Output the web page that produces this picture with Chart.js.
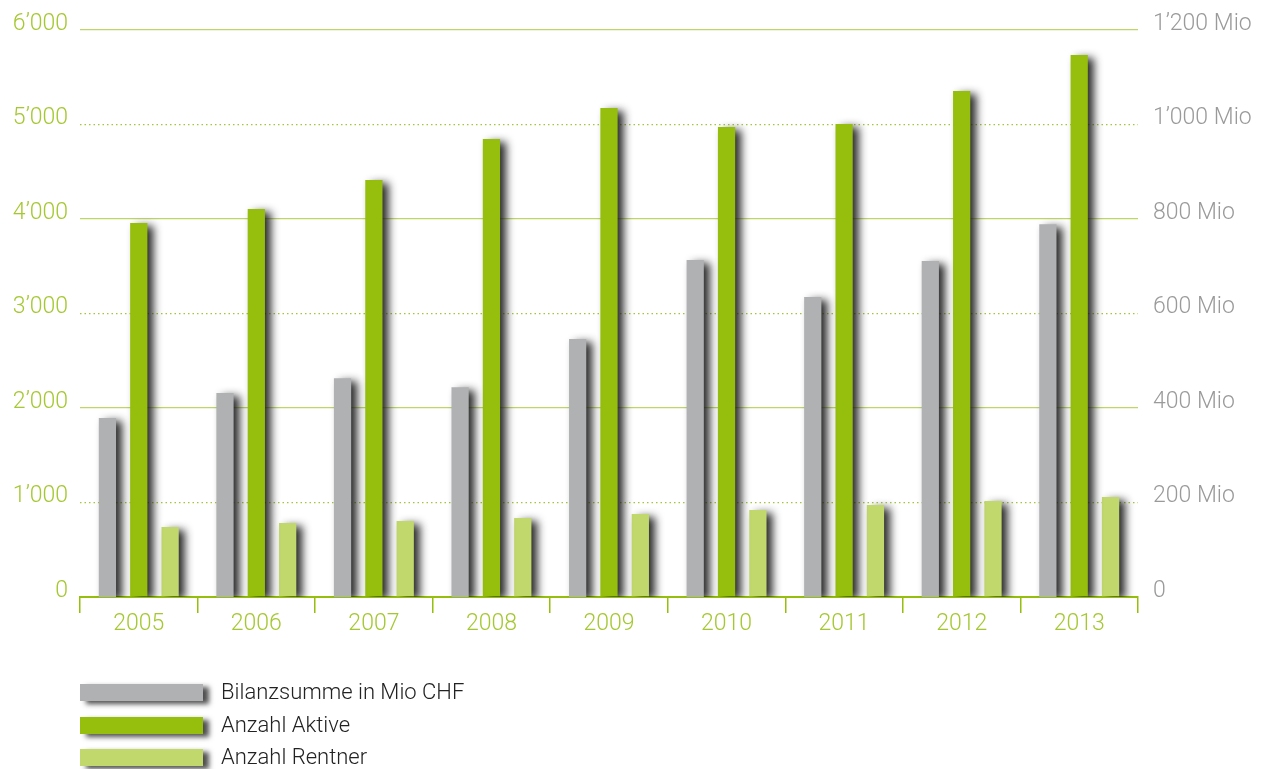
<!DOCTYPE html>
<html>
<head>
<meta charset="utf-8">
<script src="https://cdn.jsdelivr.net/npm/chart.js@4.4.1/dist/chart.umd.min.js"></script>
<style>
  body { margin: 0; background: #fff; }
  #wrap { position: relative; width: 1268px; height: 769px; }
  #legend { position: absolute; left: 80px; top: 684px; font-family: Roboto, "Liberation Sans", sans-serif; font-weight: 300; font-size: 22px; color: #222; }
  .row { position: relative; height: 32.5px; }
  .box { position: absolute; left: 0; top: 0; width: 123px; height: 17px; box-shadow: 6px 3px 5px rgba(20,20,20,0.75); }
  .lbl { position: absolute; left: 141px; top: -5px; white-space: nowrap; }
</style>
</head>
<body>
<div id="wrap">
  <canvas id="myChart" width="1268" height="769"></canvas>
  <div id="legend"></div>
</div>
<script>
// data
const years = ["2005", "2006", "2007", "2008", "2009", "2010", "2011", "2012", "2013"];
const bilanzsumme = [379, 432, 463, 444, 546, 713, 635, 711, 789];   // Mio CHF, right axis
const aktive = [3958, 4106, 4413, 4847, 5175, 4974, 5005, 5354, 5735];
const rentner = [741, 783, 804, 836, 878, 921, 974, 1016, 1058];
const leftTicks = [0, 1000, 2000, 3000, 4000, 5000, 6000];
const rightTicks = [0, 200, 400, 600, 800, 1000, 1200];

const GREEN = "#96bf0d";
const LIGHT = "#c1d86c";
const GRAY = "#b0b1b3";
const FONT = "Roboto, 'Liberation Sans', sans-serif";

function fmt(v) {
  if (v < 1000) return String(v);
  const r = String(v % 1000).padStart(3, "0");
  return Math.floor(v / 1000) + "\u2019" + r;
}

// drop shadow under the bars
const shadowPlugin = {
  id: "barShadow",
  beforeDatasetsDraw(chart) {
    const c = chart.ctx;
    c.save();
    c.shadowColor = "rgba(20,20,20,0.9)";
    c.shadowBlur = 8;
    c.shadowOffsetX = 6;
    c.shadowOffsetY = 3;
  },
  afterDatasetsDraw(chart) {
    chart.ctx.restore();
  }
};

const ctx = document.getElementById("myChart").getContext("2d");
const chart = new Chart(ctx, {
  type: "bar",
  data: {
    labels: years,
    datasets: [
      { label: "Bilanzsumme in Mio CHF", data: bilanzsumme, backgroundColor: GRAY, yAxisID: "y1" },
      { label: "Anzahl Aktive", data: aktive, backgroundColor: GREEN, yAxisID: "y" },
      { label: "Anzahl Rentner", data: rentner, backgroundColor: LIGHT, yAxisID: "y" }
    ]
  },
  options: {
    responsive: false,
    animation: false,
    categoryPercentage: 0.8,
    barPercentage: 0.55,
    layout: { padding: { top: 30, bottom: 132, left: 0, right: 0 } },
    plugins: { legend: { display: false }, tooltip: { enabled: false } },
    scales: {
      x: {
        grid: { drawOnChartArea: false, drawTicks: true, tickLength: 16, color: GREEN, lineWidth: 1.5, offset: true },
        border: { color: GREEN, width: 2 },
        ticks: { color: "#a5c832", padding: -3, font: { family: FONT, size: 23, weight: "300" } },
        afterFit(s) { s.height = 40; }
      },
      y: {
        position: "left",
        min: 0, max: 6000,
        afterBuildTicks(s) { s.ticks = leftTicks.map(v => ({ value: v })); },
        afterFit(s) { s.width = 80; },
        grid: {
          drawTicks: false,
          lineWidth: 1.3,
          color: c => (c.tick && c.tick.value % 2000 === 0) ? "#bdd66a" : "#a3c53c"
        },
        border: {
          display: false,
          dash: c => (c.tick && c.tick.value % 2000 !== 0) ? [1.5, 3] : []
        },
        ticks: {
          color: "#a5c832", padding: 12, labelOffset: -6,
          font: { family: FONT, size: 23, weight: "300" },
          callback: v => fmt(v)
        }
      },
      y1: {
        position: "right",
        min: 0, max: 1200,
        afterBuildTicks(s) { s.ticks = rightTicks.map(v => ({ value: v })); },
        afterFit(s) { s.width = 130; },
        grid: { display: false, drawTicks: false },
        border: { display: false },
        ticks: {
          color: "#9a9a9a", padding: 15, labelOffset: -6,
          font: { family: FONT, size: 23, weight: "300" },
          callback: v => v === 0 ? "0" : fmt(v) + " Mio"
        }
      }
    }
  },
  plugins: [shadowPlugin]
});

// legend built from the chart's datasets
const leg = document.getElementById("legend");
chart.data.datasets.forEach(ds => {
  const row = document.createElement("div");
  row.className = "row";
  row.innerHTML = '<div class="box" style="background:' + ds.backgroundColor + '"></div><div class="lbl">' + ds.label + '</div>';
  leg.appendChild(row);
});
</script>
</body>
</html>
